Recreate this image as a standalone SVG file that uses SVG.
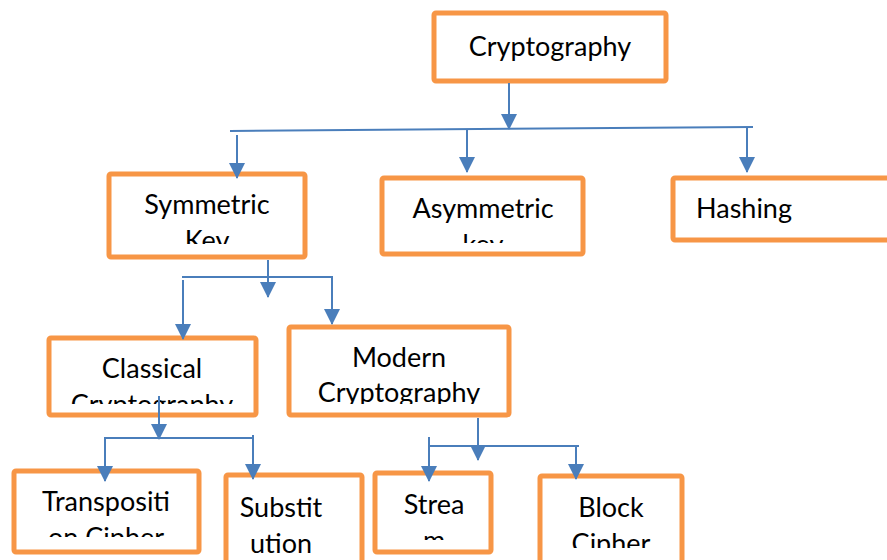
<svg xmlns="http://www.w3.org/2000/svg" width="887" height="560" viewBox="0 0 887 560">
<style>
.box{fill:#fff;stroke:#F79646;stroke-width:5}
.t{font-family:Lato,"Liberation Sans",sans-serif;font-size:27px;fill:#000;text-anchor:middle}
.c{fill:none;stroke:#4A7EBB;stroke-width:2}
</style>
<defs>
<marker id="ah" markerUnits="userSpaceOnUse" markerWidth="16" markerHeight="16" viewBox="0 0 16 16" refX="15" refY="8" orient="auto">
<path d="M0,0 L16,8 L0,16 z" fill="#4A7EBB"/>
</marker>
<clipPath id="cSym"><rect x="109" y="174" width="196" height="70"/></clipPath>
<clipPath id="cAsy"><rect x="382" y="178" width="201" height="65"/></clipPath>
<clipPath id="cCla"><rect x="49" y="338" width="207" height="66"/></clipPath>
<clipPath id="cMod"><rect x="289" y="327" width="220" height="77"/></clipPath>
<clipPath id="cTra"><rect x="14" y="471" width="185" height="66"/></clipPath>
<clipPath id="cStr"><rect x="375" y="473" width="116" height="67"/></clipPath>
<clipPath id="cBlo"><rect x="540" y="476" width="142" height="72"/></clipPath>
</defs>
<rect width="887" height="560" fill="#fff"/>
<g id="cryptography">
<rect class="box" x="434" y="13" width="232" height="68" rx="2"/>
<text class="t" x="550" y="56">Cryptography</text>
</g>
<g id="symmetric">
<rect class="box" x="109" y="174" width="196" height="83" rx="2"/>
<g clip-path="url(#cSym)"><text class="t" x="207" y="214">Symmetric</text><text class="t" x="207" y="250">Key</text></g>
</g>
<g id="asymmetric">
<rect class="box" x="382" y="178" width="201" height="76" rx="2"/>
<g clip-path="url(#cAsy)"><text class="t" x="483" y="218">Asymmetric</text><text class="t" x="483" y="254">key</text></g>
</g>
<g id="hashing">
<rect class="box" x="673" y="178" width="220" height="62" rx="2"/>
<text class="t" x="696" y="218" style="text-anchor:start">Hashing</text>
</g>
<g id="classical">
<rect class="box" x="49" y="338" width="207" height="77" rx="2"/>
<g clip-path="url(#cCla)"><text class="t" x="152" y="378">Classical</text><text class="t" x="152" y="414">Cryptography</text></g>
</g>
<g id="modern">
<rect class="box" x="289" y="327" width="220" height="88" rx="2"/>
<g clip-path="url(#cMod)"><text class="t" x="399" y="367">Modern</text><text class="t" x="399" y="402">Cryptography</text></g>
</g>
<g id="transposition">
<rect class="box" x="14" y="471" width="185" height="81" rx="2"/>
<g clip-path="url(#cTra)"><text class="t" x="106" y="511">Transpositi</text><text class="t" x="106" y="547">on Cipher</text></g>
</g>
<g id="substitution">
<rect class="box" x="226" y="475" width="136" height="95" rx="2"/>
<text class="t" x="281" y="517">Substit</text><text class="t" x="281" y="553">ution</text>
</g>
<g id="stream">
<rect class="box" x="375" y="473" width="116" height="79" rx="2"/>
<g clip-path="url(#cStr)"><text class="t" x="434" y="514">Strea</text><text class="t" x="434" y="550">m</text></g>
</g>
<g id="block">
<rect class="box" x="540" y="476" width="142" height="95" rx="2"/>
<g clip-path="url(#cBlo)"><text class="t" x="611" y="517">Block</text><text class="t" x="611" y="553">Cipher</text></g>
</g>
<g id="connectors">
<path class="c" d="M509,83 V129" marker-end="url(#ah)"/>
<path class="c" d="M230,131 L753,127"/>
<path class="c" d="M237,135 V178" marker-end="url(#ah)"/>
<path class="c" d="M467,129 V172" marker-end="url(#ah)"/>
<path class="c" d="M747,128 V172" marker-end="url(#ah)"/>
<path class="c" d="M268,260 V297" marker-end="url(#ah)"/>
<path class="c" d="M182,277 H332 V324" marker-end="url(#ah)"/>
<path class="c" d="M183,280 V339" marker-end="url(#ah)"/>
<path class="c" d="M159,396 V439" marker-end="url(#ah)"/>
<path class="c" d="M253,438 H105 V481" marker-end="url(#ah)"/>
<path class="c" d="M253,435 V479" marker-end="url(#ah)"/>
<path class="c" d="M478,418 V460" marker-end="url(#ah)"/>
<path class="c" d="M429,446 H579"/>
<path class="c" d="M429,437 V481" marker-end="url(#ah)"/>
<path class="c" d="M576,447 V479" marker-end="url(#ah)"/>
</g>
</svg>
